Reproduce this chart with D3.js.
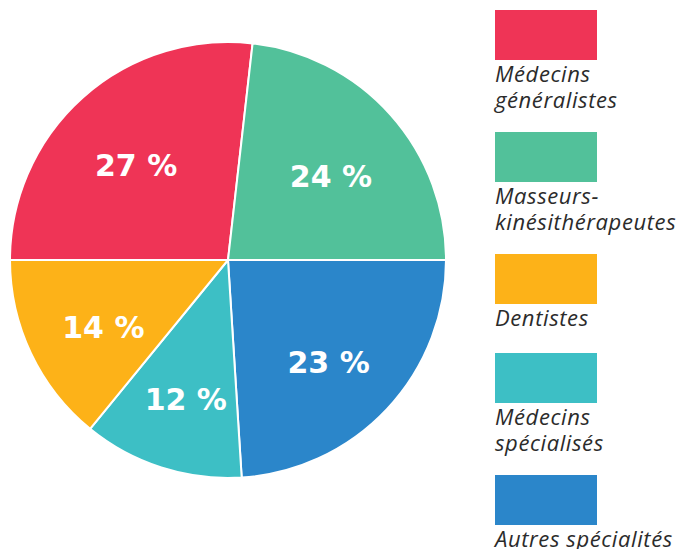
<!DOCTYPE html>
<html>
<head>
<meta charset="utf-8">
<script src="https://cdn.jsdelivr.net/npm/d3@7"></script>
<style>
  body { margin: 0; background: #fff; }
  svg { display: block; }
</style>
</head>
<body>
<div id="chart"></div>
<script>
// slice data, clockwise from 9 o'clock
var sliceKeys = ["gen", "kine", "autres", "spec", "dent"]
var sliceValues = [26.8, 23.2, 24.0, 11.9, 14.1]
var sliceLabels = ["27 %", "24 %", "23 %", "12 %", "14 %"]

// legend order
var legendKeys = ["gen", "kine", "dent", "spec", "autres"]
var legendLabels = [
  ["Médecins", "généralistes"],
  ["Masseurs-", "kinésithérapeutes"],
  ["Dentistes"],
  ["Médecins", "spécialisés"],
  ["Autres spécialités"]
]

var color = d3.scaleOrdinal()
  .domain(["gen", "kine", "dent", "spec", "autres"])
  .range(["#ef3456", "#52c19a", "#fdb218", "#3dbfc5", "#2b86ca"])

var width = 688, height = 549
var cx = 228, cy = 260, radius = 218

var svg = d3.select("#chart")
  .append("svg")
  .attr("width", width)
  .attr("height", height)

var data = sliceKeys.map(function(k, i) {
  return { key: k, value: sliceValues[i], label: sliceLabels[i] }
})

var pie = d3.pie()
  .sort(null)
  .value(function(d) { return d.value })
  .startAngle(-Math.PI / 2)
  .endAngle(Math.PI * 1.5)

var arc = d3.arc().innerRadius(0).outerRadius(radius)
var labelArc = d3.arc().innerRadius(138).outerRadius(138)

var g = svg.append("g").attr("transform", "translate(" + cx + "," + cy + ")")

/* ------- PIE SLICES -------*/
g.selectAll("path.slice")
  .data(pie(data))
  .enter()
  .append("path")
  .attr("class", "slice")
  .attr("d", arc)
  .style("fill", function(d) { return color(d.data.key) })
  .style("stroke", "#fff")
  .style("stroke-width", 2)

/* ------- PERCENT LABELS -------*/
g.selectAll("text.pct")
  .data(pie(data))
  .enter()
  .append("text")
  .attr("class", "pct")
  .attr("transform", function(d) {
    var p = labelArc.centroid(d)
    return "translate(" + p[0] + "," + (p[1] + 8) + ")"
  })
  .attr("text-anchor", "middle")
  .attr("dy", "0.36em")
  .style("font-family", "'DejaVu Sans', sans-serif")
  .style("font-weight", "bold")
  .style("font-size", "30px")
  .style("fill", "#fff")
  .text(function(d) { return d.data.label })

/* ------- LEGEND -------*/
var legend = svg.append("g").attr("class", "legend")
var lx = 495, ly = 10, lineH = 26

legendKeys.forEach(function(k, i) {
  legend.append("rect")
    .attr("x", lx)
    .attr("y", ly)
    .attr("width", 102)
    .attr("height", 50)
    .style("fill", color(k))

  var t = legend.append("text")
    .style("font-family", "'Open Sans', sans-serif")
    .style("font-style", "italic")
    .style("font-size", "22px")
    .style("letter-spacing", "0.6px")
    .style("fill", "#2b2b2b")

  legendLabels[i].forEach(function(line, j) {
    t.append("tspan")
      .attr("x", lx)
      .attr("y", ly + 72 + j * lineH)
      .text(line)
  })

  ly = ly + 72 + (legendLabels[i].length - 1) * lineH + (legendLabels[i].length > 1 ? 24 : 27)
})
</script>
</body>
</html>
